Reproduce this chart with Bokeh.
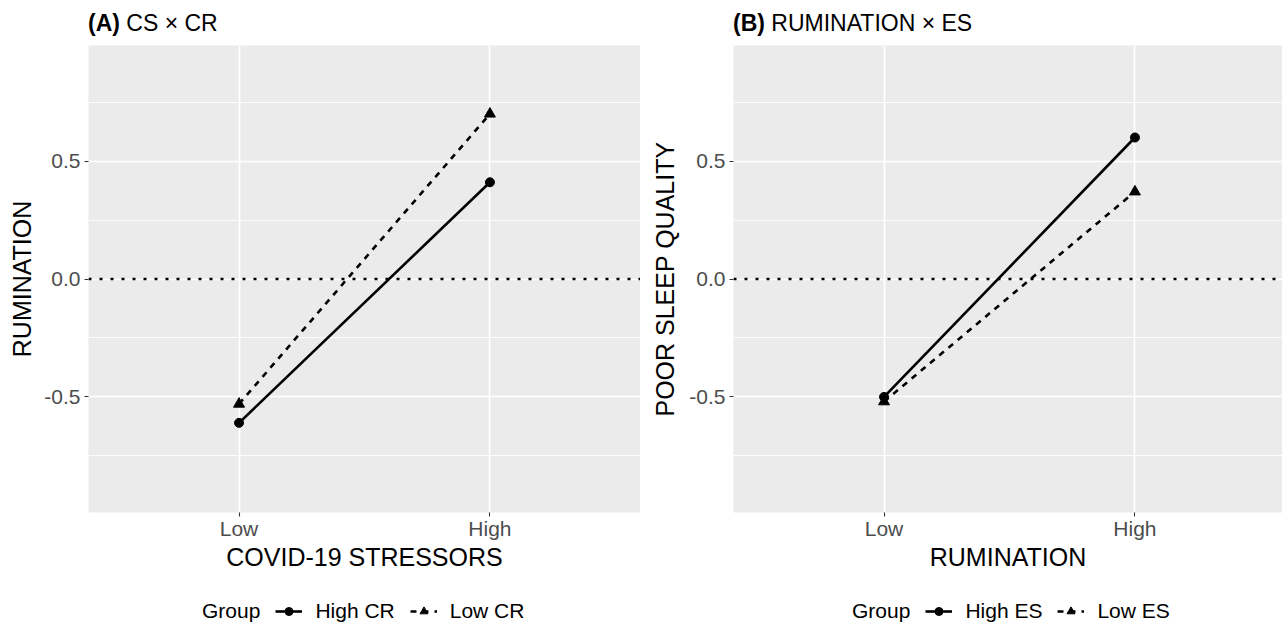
from bokeh.plotting import figure
from bokeh.layouts import row, column
from bokeh.models import (FixedTicker, NumeralTickFormatter, Range1d, Span, Div,
                          Legend, LegendItem)
from bokeh.embed import file_html
from bokeh.resources import INLINE

FONT = "Liberation Sans"

# ---------------- data ----------------
levels = ["Low", "High"]
y_ticks = [-0.5, 0.0, 0.5]
y_minor = [-0.75, -0.25, 0.25, 0.75]

a_tag = "(A)"
a_title = "CS × CR"
a_xlabel = "COVID-19 STRESSORS"
a_ylabel = "RUMINATION"
a_groups = ["High CR", "Low CR"]
a_high = [-0.61, 0.41]
a_low = [-0.53, 0.70]

b_tag = "(B)"
b_title = "RUMINATION × ES"
b_xlabel = "RUMINATION"
b_ylabel = "POOR SLEEP QUALITY"
b_groups = ["High ES", "Low ES"]
b_high = [-0.50, 0.60]
b_low = [-0.52, 0.37]

legend_title = "Group"

FRAME_H = 467
UNIT = 250.9  # px per category step
TITLE_H = 40
BOTTOM = 64
LEG_H = 52
xs = [i + 1 for i in range(len(levels))]


def make_title(tag, title, width, pad_left):
    html = ('<div style="padding:9px 0 0 %dpx; font-family:\'%s\'; font-size:23px; '
            'line-height:28px; white-space:nowrap; color:black">'
            '<b>%s</b> %s</div>') % (pad_left, FONT, tag, title)
    return Div(text=html, width=width, height=TITLE_H, margin=0)


def series_glyphs(p, high, low):
    l1 = p.line(xs, high, line_color="black", line_width=2.6)
    l2 = p.line(xs, low, line_color="black", line_width=2.6, line_dash="6 6")
    s1 = p.scatter(xs, high, marker="circle", size=9, fill_color="black", line_color="black")
    s2 = p.scatter(xs, low, marker="triangle", size=11, fill_color="black", line_color="black")
    return l1, l2, s1, s2


def make_panel(xlabel, ylabel, high, low, width, border_left, ylab_standoff):
    frame_w = width - border_left
    x_start = 0.4
    x_end = x_start + frame_w / UNIT
    p = figure(width=width, height=5 + FRAME_H + BOTTOM, output_backend="svg",
               toolbar_location=None,
               x_range=Range1d(x_start, x_end), y_range=Range1d(-0.99, 0.99),
               min_border_left=border_left, min_border_right=0,
               min_border_top=5, min_border_bottom=BOTTOM)
    p.background_fill_color = "#ebebeb"
    p.border_fill_color = "white"
    p.outline_line_color = None

    p.xaxis.ticker = FixedTicker(ticks=xs)
    p.xaxis.major_label_overrides = {x: lab for x, lab in zip(xs, levels)}
    p.yaxis.ticker = FixedTicker(ticks=y_ticks, minor_ticks=y_minor)
    p.yaxis.formatter = NumeralTickFormatter(format="0.0")

    for ax in (p.xaxis, p.yaxis):
        ax.axis_line_color = None
        ax.major_tick_line_color = "#333333"
        ax.major_tick_line_width = 1.1
        ax.major_tick_out = 4
        ax.major_tick_in = 0
        ax.minor_tick_line_color = None
        ax.major_label_text_font = FONT
        ax.major_label_text_font_size = "21px"
        ax.major_label_text_color = "#4d4d4d"
        ax.axis_label_text_font = FONT
        ax.axis_label_text_font_size = "25px"
        ax.axis_label_text_font_style = "normal"
        ax.axis_label_text_color = "black"
    p.xaxis.major_label_standoff = 0
    p.xaxis.axis_label_standoff = 0
    p.yaxis.major_label_standoff = 4
    p.yaxis.axis_label_standoff = ylab_standoff
    p.xaxis.axis_label = xlabel
    p.yaxis.axis_label = ylabel

    p.xgrid.grid_line_color = "white"
    p.xgrid.grid_line_width = 1.7
    p.ygrid.grid_line_color = "white"
    p.ygrid.grid_line_width = 1.7
    p.ygrid.minor_grid_line_color = "white"
    p.ygrid.minor_grid_line_width = 0.9

    p.add_layout(Span(location=0, dimension="width", line_color="black",
                      line_width=2.4, line_dash="3 8"))
    series_glyphs(p, high, low)
    return p


def make_legend_fig(groups, high, low, width, vx):
    # legend strip: its own frame holds the legend, the data glyphs fall outside view
    q = figure(width=width, height=LEG_H, output_backend="svg", toolbar_location=None,
               x_axis_location=None, y_axis_location=None,
               x_range=Range1d(10, 11), y_range=Range1d(10, 11),
               min_border_left=0, min_border_right=0, min_border_top=0,
               min_border_bottom=0)
    q.outline_line_color = None
    q.background_fill_color = "white"
    q.border_fill_color = "white"
    q.grid.visible = False
    d = q.line(xs, high, line_alpha=0)
    l1, l2, s1, s2 = series_glyphs(q, high, low)
    legend = Legend(items=[LegendItem(label=legend_title, renderers=[d]),
                           LegendItem(label=groups[0], renderers=[l1, s1]),
                           LegendItem(label=groups[1], renderers=[l2, s2])],
                    orientation="horizontal", location=(vx, 5),
                    glyph_width=27, glyph_height=20, label_height=24,
                    label_standoff=13, spacing=15,
                    padding=0, margin=0, background_fill_alpha=0,
                    border_line_color=None, label_text_font=FONT,
                    label_text_font_size="21px", label_text_color="black")
    q.add_layout(legend)
    return q


ta = make_title(a_tag, a_title, 640, 88)
tb = make_title(b_tag, b_title, 642, 93)
pa = make_panel(a_xlabel, a_ylabel, a_high, a_low, width=640, border_left=88, ylab_standoff=5)
pb = make_panel(b_xlabel, b_ylabel, b_high, b_low, width=642, border_left=93, ylab_standoff=7)
la = make_legend_fig(a_groups, a_high, a_low, width=640, vx=162)
lb = make_legend_fig(b_groups, b_high, b_low, width=642, vx=172)

layout = column(row(ta, tb, spacing=0), row(pa, pb, spacing=0), row(la, lb, spacing=0),
                spacing=0)
open("out.html", "w").write(file_html(layout, INLINE))
